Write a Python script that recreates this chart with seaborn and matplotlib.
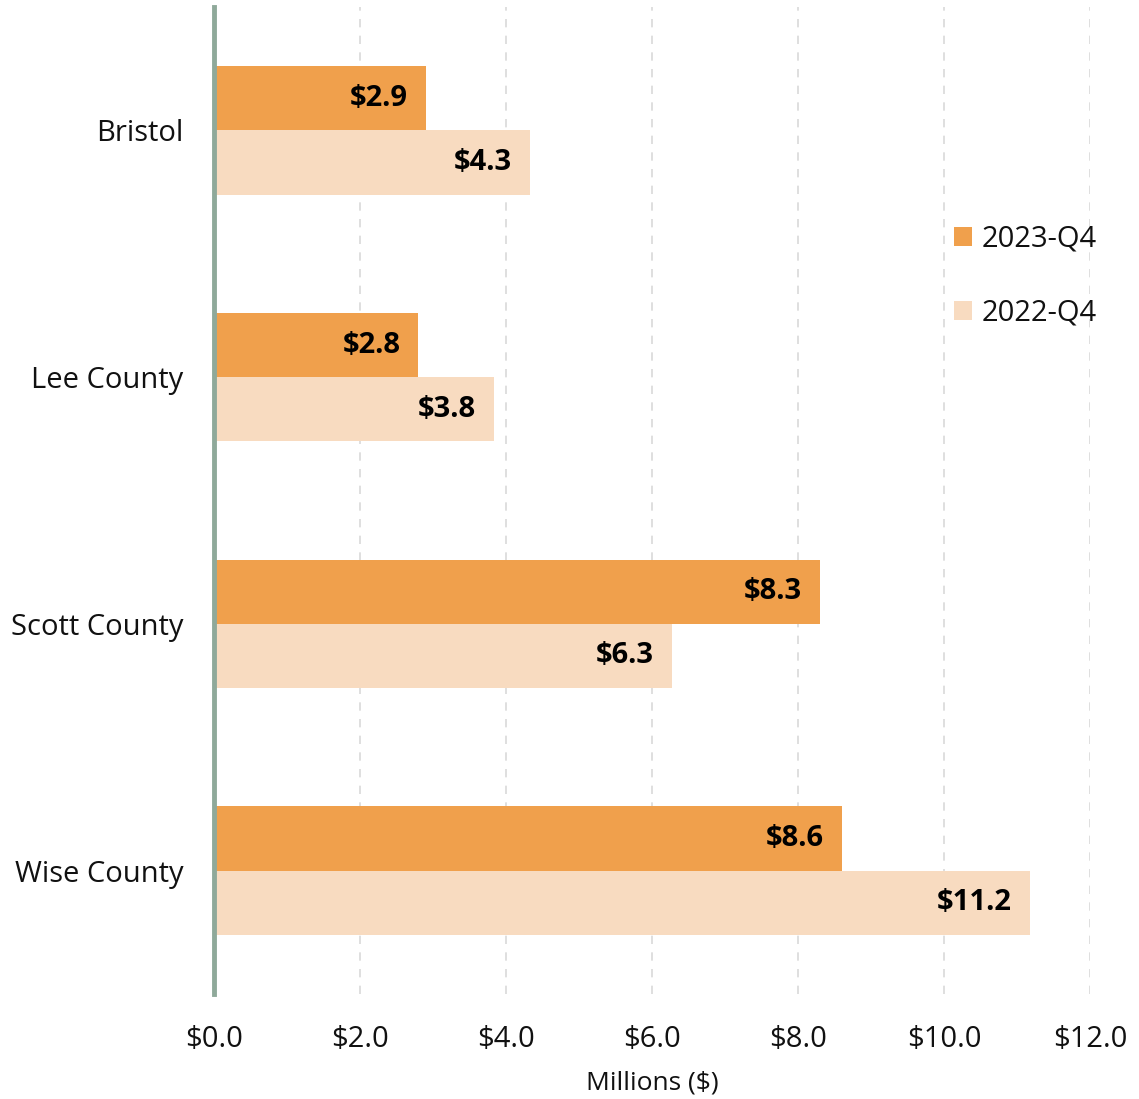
import matplotlib
matplotlib.use("Agg")
import matplotlib.pyplot as plt
import seaborn as sns
import pandas as pd

categories = ["Bristol", "Lee County", "Scott County", "Wise County"]
series = ["2023-Q4", "2022-Q4"]
values_2023 = [2.9, 2.8, 8.3, 8.6]
values_2022 = [4.33, 3.84, 6.27, 11.18]
labels_2023 = ["$2.9", "$2.8", "$8.3", "$8.6"]
labels_2022 = ["$4.3", "$3.8", "$6.3", "$11.2"]
xticks = [0, 2, 4, 6, 8, 10, 12]
xtick_labels = ["$0.0", "$2.0", "$4.0", "$6.0", "$8.0", "$10.0", "$12.0"]
colors = ["#f0a04c", "#f8dbc0"]

df = pd.DataFrame({
    "cat": categories * 2,
    "val": values_2023 + values_2022,
    "series": [series[0]] * 4 + [series[1]] * 4,
})

sns.set_style("white")
plt.rcParams["font.family"] = ["Open Sans", "DejaVu Sans"]
plt.rcParams["text.color"] = "#111111"
plt.rcParams["xtick.color"] = "#111111"
plt.rcParams["ytick.color"] = "#111111"
plt.rcParams["axes.labelcolor"] = "#111111"

fig = plt.figure(figsize=(11.39, 10.99), dpi=100)
ax = fig.add_axes([214 / 1139, 1 - 994 / 1099, (1090 - 214) / 1139, (994 - 7) / 1099])

sns.barplot(data=df, y="cat", x="val", hue="series", orient="h",
            palette=colors, width=0.52, ax=ax, saturation=1, legend=True,
            linewidth=0, edgecolor="none")

ax.set_xlim(0, 12)
ax.set_ylim(3.5, -0.5)
ax.set_xticks(xticks)
ax.set_xticklabels(xtick_labels, fontsize=21)
ax.tick_params(axis="x", length=0, pad=22)
ax.tick_params(axis="y", length=0, pad=22, labelsize=21)
ax.set_xlabel("Millions ($)", fontsize=19, labelpad=12)
ax.set_ylabel("")
ax.xaxis.grid(True, color="#d9d9d9", linestyle=(0, (5, 5)), linewidth=1.2)
ax.set_axisbelow(True)
for s in ["top", "right", "bottom"]:
    ax.spines[s].set_visible(False)
ax.spines["left"].set_color("#8fa99a")
ax.spines["left"].set_linewidth(3.5)
ax.spines["left"].set_zorder(5)

label_sets = [labels_2023, labels_2022]
for cont, labs in zip(ax.containers, label_sets):
    texts = ax.bar_label(cont, labels=labs, padding=-13, fontsize=21, fontweight="bold", color="black")
    for t in texts:
        t.set_ha("right")

leg = ax.legend(loc="upper left", bbox_to_anchor=(0.815, 0.806), frameon=False,
                fontsize=21, handlelength=0.6, handleheight=0.6, labelspacing=1.54,
                handletextpad=0.35)

fig.savefig("out.png", dpi=100)
